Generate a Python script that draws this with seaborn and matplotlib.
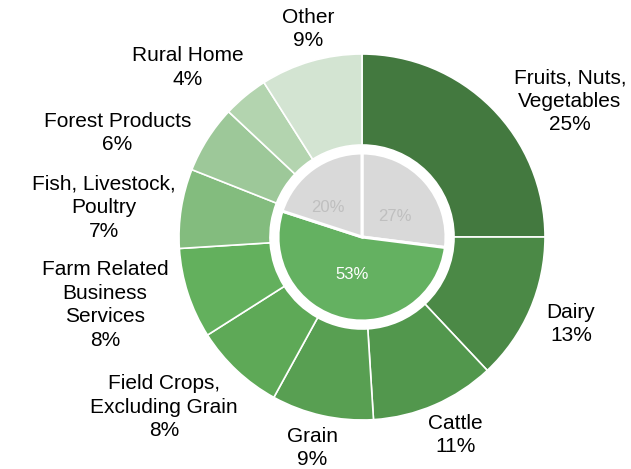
import matplotlib
matplotlib.use("Agg")
import matplotlib.pyplot as plt
import seaborn as sns
import numpy as np

# Outer ring: share of loans by sector
sectors = [
    "Fruits, Nuts,\nVegetables",
    "Dairy",
    "Cattle",
    "Grain",
    "Field Crops,\nExcluding Grain",
    "Farm Related\nBusiness\nServices",
    "Fish, Livestock,\nPoultry",
    "Forest Products",
    "Rural Home",
    "Other",
]
sector_pct = [25, 13, 11, 9, 8, 8, 7, 6, 4, 9]

# Inner pie: grouped shares
groups = ["Group A", "Group B", "Group C"]
group_pct = [27, 53, 20]

outer_colors = ["#43793F", "#4B8946", "#52974D", "#589F52", "#5EA957",
                "#63B05D", "#83BC7E", "#9DC899", "#B3D4AF", "#D3E4D2"]
inner_colors = ["#D9D9D9", "#64B161", "#D9D9D9"]
inner_text_colors = ["#BFBFBF", "#FFFFFF", "#BFBFBF"]

# Label placement (in units of the outer radius, relative to the centre)
label_pos = [(1.136, 0.743), (1.142, -0.475), (0.511, -1.081), (-0.270, -1.153),
             (-1.082, -0.929), (-1.404, -0.372), (-1.410, 0.161), (-1.337, 0.568),
             (-0.951, 0.926), (-0.292, 1.137)]
inner_label_pos = [(0.18, 0.11), (-0.055, -0.205), (-0.185, 0.16)]

sns.set_theme(style="white")
plt.rcParams["font.family"] = ["Liberation Sans", "DejaVu Sans"]

W, H = 631, 469
cx, cy, R = 362, 237, 183
fig = plt.figure(figsize=(W / 100, H / 100), dpi=100)
ax = fig.add_axes([0, 0, 1, 1])
ax.set_axis_off()

ax.pie(sector_pct, radius=1.0, startangle=90, counterclock=False,
       colors=outer_colors,
       wedgeprops=dict(width=91 / R, edgecolor="white", linewidth=1.2))
ax.pie(group_pct, radius=84 / R, startangle=90, counterclock=False,
       colors=inner_colors,
       wedgeprops=dict(edgecolor="white", linewidth=2.2))
ax.set_xlim(-cx / R, (W - cx) / R)
ax.set_ylim(-(H - cy) / R, cy / R)
ax.set_aspect("auto")

for name, pct, (x, y) in zip(sectors, sector_pct, label_pos):
    ax.text(x, y, f"{name}\n{pct}%", ha="center", va="center",
            fontsize=15, color="#000000", linespacing=1.30,
            multialignment="center")

for pct, (x, y), c in zip(group_pct, inner_label_pos, inner_text_colors):
    ax.text(x, y, f"{pct}%", ha="center", va="center", fontsize=12, color=c)

fig.savefig("out.png", dpi=100, facecolor="white")
